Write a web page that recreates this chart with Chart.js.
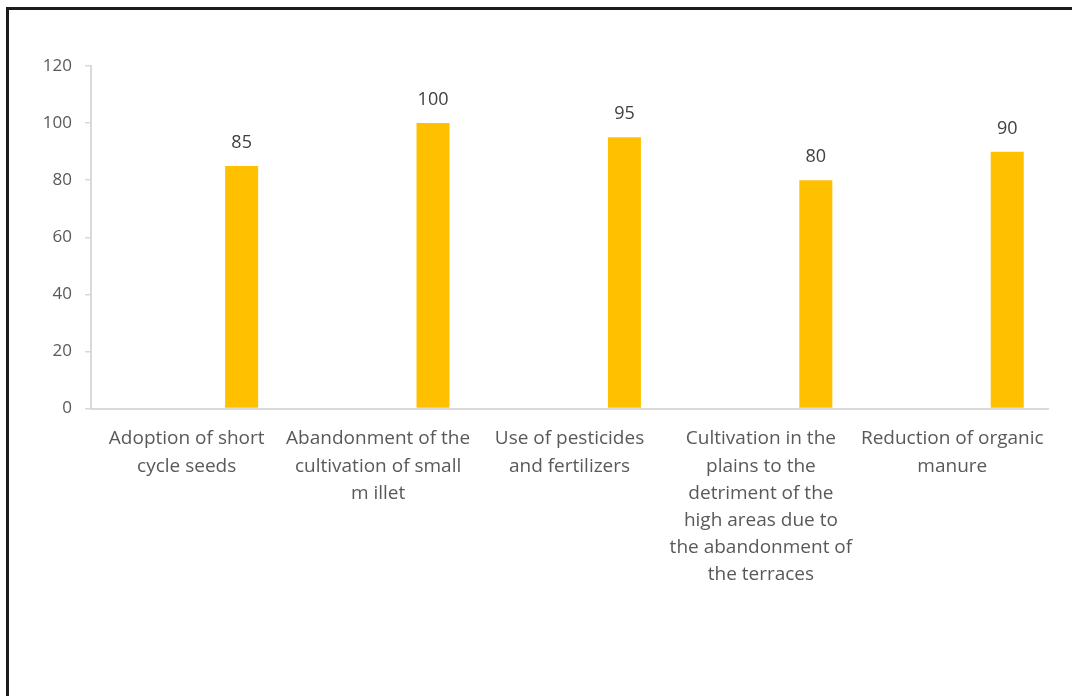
<!DOCTYPE html>
<html>
<head>
<meta charset="utf-8">
<script src="https://cdn.jsdelivr.net/npm/chart.js@4/dist/chart.umd.min.js"></script>
<style>
  html, body { margin: 0; padding: 0; width: 1072px; height: 696px; overflow: hidden; background: #fff; }
  #frame { position: absolute; left: 6px; top: 7px; width: 1200px; height: 800px; border: 3px solid #1c1c1c; box-sizing: border-box; }
  #wrap { position: absolute; left: 0; top: 0; width: 1072px; height: 696px; }
</style>
</head>
<body>
<div id="frame"></div>
<div id="wrap"><canvas id="c" width="1072" height="696"></canvas></div>
<script>
const categories = [
  ["Adoption of short", "cycle seeds"],
  ["Abandonment of the", "cultivation of small", "m illet"],
  ["Use of pesticides", "and fertilizers"],
  ["Cultivation in the", "plains to the", "detriment of the", "high areas due to", "the abandonment of", "the terraces"],
  ["Reduction of organic", "manure"]
];
const emptySeriesA = [null, null, null, null, null];
const emptySeriesB = [null, null, null, null, null];
const values = [85, 100, 95, 80, 90];
const yTicks = [0, 20, 40, 60, 80, 100, 120];

const FONT = "'Open Sans', Lato, sans-serif";

const valueLabels = {
  id: 'valueLabels',
  afterDatasetsDraw(chart) {
    const ctx = chart.ctx;
    const meta = chart.getDatasetMeta(2);
    ctx.save();
    ctx.font = "18px " + FONT;
    ctx.fillStyle = '#404040';
    ctx.textAlign = 'center';
    ctx.textBaseline = 'alphabetic';
    meta.data.forEach((bar, i) => {
      ctx.fillText(String(values[i]), bar.x, bar.y - 18);
    });
    ctx.restore();
  }
};

new Chart(document.getElementById('c'), {
  type: 'bar',
  data: {
    labels: categories,
    datasets: [
      { label: 'A', data: emptySeriesA, backgroundColor: '#FFC000' },
      { label: 'B', data: emptySeriesB, backgroundColor: '#FFC000' },
      { label: 'Series', data: values, backgroundColor: '#FFC000' }
    ]
  },
  options: {
    responsive: false,
    animation: false,
    devicePixelRatio: 1,
    categoryPercentage: 0.861,
    barPercentage: 0.601,
    layout: { padding: { left: 31, right: 24, top: 66, bottom: 0 } },
    plugins: { legend: { display: false }, tooltip: { enabled: false } },
    scales: {
      x: {
        grid: { display: false, drawTicks: false },
        border: { display: true, color: '#d9d9d9', width: 2 },
        ticks: {
          color: '#595959',
          font: { family: FONT, size: 19, lineHeight: 1.43 },
          padding: 17,
          maxRotation: 0,
          autoSkip: false
        },
        afterFit(s) { s.height = 696 - 408.5; }
      },
      y: {
        min: 0,
        max: 120,
        afterBuildTicks(s) { s.ticks = yTicks.map(v => ({ value: v })); },
        grid: { drawOnChartArea: false, drawTicks: true, tickLength: 6, color: '#d9d9d9', lineWidth: 1.5 },
        border: { display: true, color: '#d9d9d9', width: 2 },
        ticks: {
          color: '#595959',
          font: { family: FONT, size: 17 },
          padding: 13
        },
        afterFit(s) { s.width = 60; }
      }
    }
  },
  plugins: [valueLabels]
});
</script>
</body>
</html>
